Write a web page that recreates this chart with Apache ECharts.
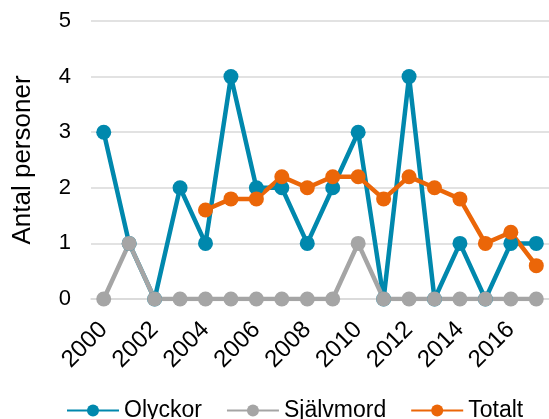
<!DOCTYPE html>
<html>
<head>
<meta charset="utf-8">
<script src="https://cdn.jsdelivr.net/npm/echarts@6/dist/echarts.min.js"></script>
<style>
  html, body { margin: 0; padding: 0; background: #fff; }
  #chart { width: 549px; height: 419px; }
</style>
</head>
<body>
<div id="chart"></div>
<script>
var years = ['2000', '2001', '2002', '2003', '2004', '2005', '2006', '2007', '2008',
             '2009', '2010', '2011', '2012', '2013', '2014', '2015', '2016', '2017'];
var olyckor = [3, 1, 0, 2, 1, 4, 2, 2, 1, 2, 3, 0, 4, 0, 1, 0, 1, 1];
var sjalvmord = [0, 1, 0, 0, 0, 0, 0, 0, 0, 0, 1, 0, 0, 0, 0, 0, 0, 0];
var totalt = [null, null, null, null, 1.6, 1.8, 1.8, 2.2, 2.0, 2.2, 2.2, 1.8, 2.2, 2.0, 1.8, 1.0, 1.2, 0.6];

var font = 'Liberation Sans, Arial, sans-serif';

var mkSeries = function (name, data, color) {
    return {
        name: name,
        type: 'line',
        data: data,
        symbol: 'circle',
        symbolSize: 15,
        lineStyle: { color: color, width: 4.5 },
        itemStyle: { color: color },
        animation: false
    };
};

var myChart = echarts.init(document.getElementById('chart'));
myChart.setOption({
    backgroundColor: '#fff',
    grid: { left: 91, right: -4, top: 21, bottom: 120 },
    legend: {
        left: 61,
        top: 394,
        itemWidth: 52,
        itemHeight: 15,
        itemGap: 24,
        textStyle: { fontFamily: font, fontSize: 23, color: '#000' },
        data: ['Olyckor', 'Självmord', 'Totalt']
    },
    xAxis: {
        type: 'category',
        data: years,
        boundaryGap: true,
        axisLine: { lineStyle: { color: '#d9d9d9', width: 1.5 } },
        axisTick: { show: false },
        axisLabel: {
            interval: 1,
            rotate: 45,
            margin: 27,
            fontFamily: font,
            fontSize: 24,
            color: '#000'
        }
    },
    yAxis: {
        type: 'value',
        min: 0,
        max: 5,
        interval: 1,
        name: 'Antal personer',
        nameLocation: 'middle',
        nameGap: 55,
        nameTextStyle: { fontFamily: font, fontSize: 26, color: '#000' },
        axisLine: { show: false },
        axisTick: { show: false },
        axisLabel: { margin: 20, fontFamily: font, fontSize: 22, color: '#000' },
        splitLine: { lineStyle: { color: '#d9d9d9', width: 1.5 } }
    },
    series: [
        mkSeries('Olyckor', olyckor, '#0088AD'),
        mkSeries('Självmord', sjalvmord, '#A5A5A5'),
        mkSeries('Totalt', totalt, '#EB6608')
    ]
});
</script>
</body>
</html>
